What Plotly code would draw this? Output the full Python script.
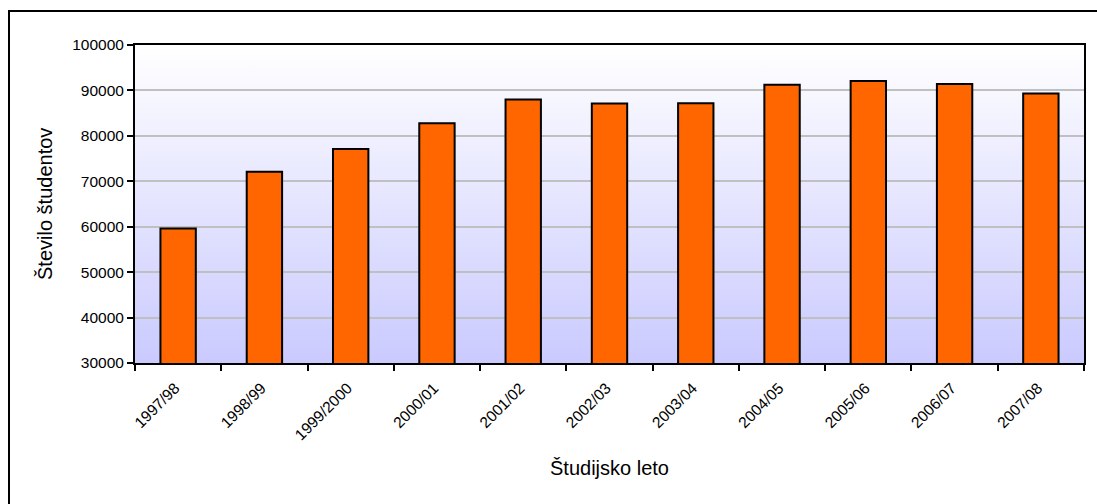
import base64
import plotly.graph_objects as go

years = ["1997/98", "1998/99", "1999/2000", "2000/01", "2001/02", "2002/03",
         "2003/04", "2004/05", "2005/06", "2006/07", "2007/08"]
students = [59600, 72100, 77100, 82800, 88000, 87100, 87200, 91250, 92100, 91400, 89350]

y_ticks = [30000, 40000, 50000, 60000, 70000, 80000, 90000, 100000]
y_tick_labels = ["30000", "40000", "50000", "60000", "70000", "80000", "90000", "100000"]

W, H = 1097, 504
L, R, T, B = 135, 13, 45, 141
pw, ph = W - L - R, H - T - B

def px_x(x):
    return (x - L) / pw

def px_y(y):
    return (H - B - y) / ph

svg = ("<svg xmlns='http://www.w3.org/2000/svg' width='100' height='100' preserveAspectRatio='none'>"
       "<defs><linearGradient id='g' x1='0' y1='0' x2='0' y2='1'>"
       "<stop offset='0' stop-color='#FFFFFF'/><stop offset='1' stop-color='#CACAFF'/>"
       "</linearGradient></defs><rect width='100' height='100' fill='url(#g)'/></svg>")
src = "data:image/svg+xml;base64," + base64.b64encode(svg.encode()).decode()

fig = go.Figure()
fig.add_trace(go.Bar(
    x=years, y=students, width=0.41,
    marker=dict(color="#FF6600", line=dict(color="#000000", width=2)),
))

font = "Liberation Sans, Arial, sans-serif"
fig.update_layout(
    width=W, height=H,
    margin=dict(l=L, r=R, t=T, b=B, autoexpand=False),
    paper_bgcolor="#FFFFFF",
    plot_bgcolor="rgba(0,0,0,0)",
    showlegend=False,
    font=dict(family=font, color="#000000", size=15),
    images=[dict(source=src, xref="paper", yref="paper", x=0, y=1, sizex=1, sizey=1,
                 sizing="stretch", layer="below", xanchor="left", yanchor="top")],
    xaxis=dict(
        type="category", tickson="boundaries", ticks="outside", ticklen=6, tickwidth=2,
        tickcolor="#000000", showline=True, linecolor="#000000", linewidth=2, mirror=True,
        showgrid=False, tickangle=-45, tickfont=dict(size=15.5, family=font),
        ticklabelstandoff=5, ticksuffix=" ",
    ),
    yaxis=dict(
        range=[30000, 100000], tickvals=y_ticks, ticktext=y_tick_labels,
        ticks="outside", ticklen=6, tickwidth=2,
        tickcolor="#000000", showline=True, linecolor="#000000", linewidth=2, mirror=True,
        showgrid=True, gridcolor="#C0C0C0", gridwidth=2, zeroline=False,
        tickfont=dict(size=15.5, family=font),
    ),
    shapes=[dict(type="rect", xref="paper", yref="paper",
                 x0=px_x(9), x1=px_x(1102), y0=px_y(510), y1=px_y(11),
                 line=dict(color="#000000", width=2), fillcolor="rgba(0,0,0,0)", layer="below")],
    annotations=[
        dict(text="Študijsko leto", xref="paper", yref="paper", x=px_x(609), y=px_y(468),
             showarrow=False, font=dict(size=20, family=font), xanchor="center", yanchor="middle"),
        dict(text="Število študentov", xref="paper", yref="paper", x=px_x(45), y=px_y(204),
             showarrow=False, textangle=-90, font=dict(size=20, family=font),
             xanchor="center", yanchor="middle"),
    ],
)

fig.write_html("out.html")
